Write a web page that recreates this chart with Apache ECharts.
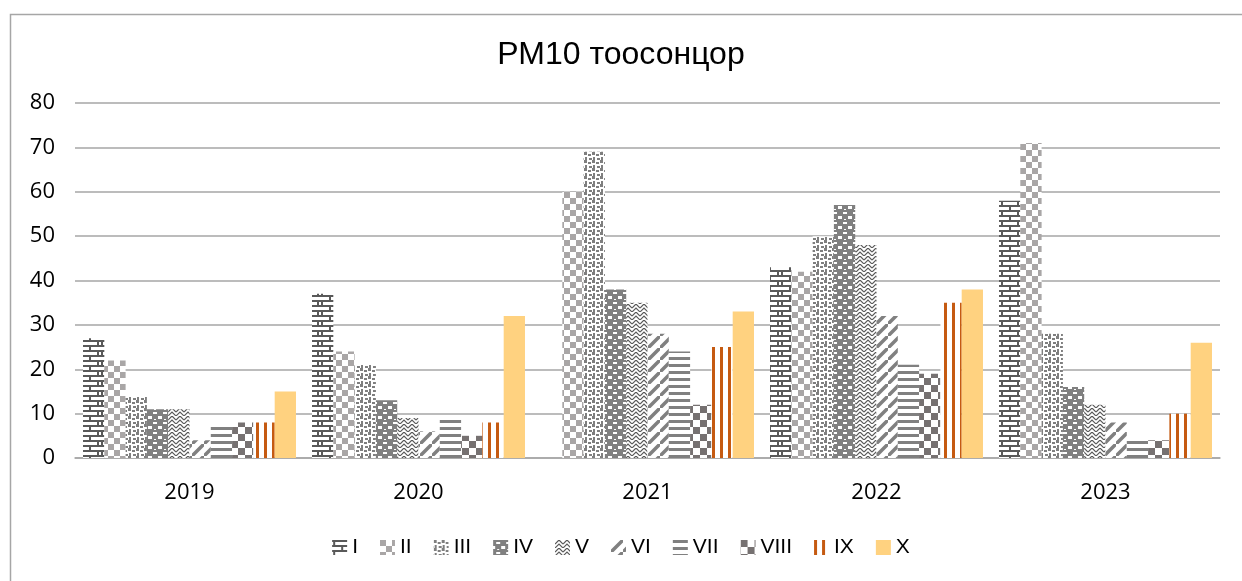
<!doctype html>
<html>
<head>
    <meta charset="utf-8">
    <title>PM10</title>
    <script src="https://cdn.jsdelivr.net/npm/echarts@6/dist/echarts.min.js"></script>
</head>
<body style="margin:0;background:#fff">
    <div id="main" style="width:1242px;height:581px;"></div>
</body>
<script type="text/javascript">
    // categories and series values
    var years = ['2019', '2020', '2021', '2022', '2023'];
    var names = ['I', 'II', 'III', 'IV', 'V', 'VI', 'VII', 'VIII', 'IX', 'X'];
    var sI    = [27, 37, 0, 43, 58];
    var sII   = [22, 24, 60, 42, 71];
    var sIII  = [14, 21, 69, 50, 28];
    var sIV   = [11, 13, 38, 57, 16];
    var sV    = [11, 9, 35, 48, 12];
    var sVI   = [4, 6, 28, 32, 8];
    var sVII  = [7, 9, 24, 21, 4];
    var sVIII = [8, 5, 12, 19, 4];
    var sIX   = [8, 8, 25, 35, 10];
    var sX    = [15, 32, 33, 38, 26];
    var yTicks = [0, 80, 10];

    // small canvas tiles used as fill patterns
    function tile(w, h, draw) {
        var c = document.createElement('canvas');
        c.width = w; c.height = h;
        var ctx = c.getContext('2d');
        ctx.fillStyle = '#fff';
        ctx.fillRect(0, 0, w, h);
        draw(ctx);
        return { image: c, repeat: 'repeat' };
    }
    var pat = [
        tile(20, 10, function (g) { // brick
            g.fillStyle = '#595959';
            g.fillRect(0, 0, 20, 2);
            g.fillRect(0, 5, 20, 2);
            g.fillRect(1, 0, 2, 7);
            g.fillRect(17, 0, 2, 7);
            g.fillRect(9, 7, 2, 3);
        }),
        tile(12, 12, function (g) { // large checker
            g.fillStyle = '#a9a6a6';
            g.fillRect(0, 0, 6, 6);
            g.fillRect(6, 6, 6, 6);
        }),
        tile(8, 8, function (g) { // confetti
            g.fillStyle = '#7f7f7f';
            g.fillRect(0, 0, 3, 3);
            g.fillRect(4, 2, 3, 2);
            g.fillRect(1, 5, 2, 3);
            g.fillRect(5, 6, 3, 2);
        }),
        tile(10, 10, function (g) { // shingle
            g.fillStyle = '#808080';
            g.fillRect(0, 0, 10, 10);
            g.fillStyle = '#fff';
            g.fillRect(3, 2, 4, 2);
            g.fillRect(0, 6, 2, 3);
            g.fillRect(8, 6, 2, 3);
            g.fillRect(4, 9, 2, 1);
        }),
        tile(8, 8, function (g) { // zigzag weave
            g.strokeStyle = '#595959';
            g.lineWidth = 1.2;
            g.beginPath();
            g.moveTo(0, 4); g.lineTo(4, 0); g.lineTo(8, 4);
            g.moveTo(0, 8); g.lineTo(4, 4); g.lineTo(8, 8);
            g.stroke();
        }),
        tile(12, 12, function (g) { // wide upward diagonal
            g.strokeStyle = '#808080';
            g.lineWidth = 3.5;
            g.beginPath();
            g.moveTo(-2, 14); g.lineTo(14, -2);
            g.stroke();
        }),
        tile(4, 7, function (g) { // horizontal lines
            g.fillStyle = '#808080';
            g.fillRect(0, 0, 4, 3);
        }),
        tile(14, 14, function (g) { // dark checker
            g.fillStyle = '#767171';
            g.fillRect(0, 0, 7, 7);
            g.fillRect(7, 7, 7, 7);
        }),
        tile(8, 2, function (g) { // vertical stripes
            g.fillStyle = '#c55a11';
            g.fillRect(0, 0, 3, 2);
        }),
        '#ffd280'
    ];

    var data = [sI, sII, sIII, sIV, sV, sVI, sVII, sVIII, sIX, sX];
    var series = [];
    for (var i = 0; i < names.length; i++) {
        series.push({
            name: names[i],
            type: 'bar',
            barGap: '0%',
            barCategoryGap: '7%',
            itemStyle: { color: pat[i] },
            data: data[i]
        });
    }

    var myChart = echarts.init(document.getElementById('main'));
    var option = {
        animation: false,
        backgroundColor: '#fff',
        graphic: [{
            type: 'rect',
            left: 8, top: 12,
            shape: { width: 1300, height: 700 },
            style: { fill: 'none', stroke: '#a6a6a6', lineWidth: 1.5 },
            silent: true
        }],
        title: {
            text: 'РМ10 тоосонцор',
            left: 'center',
            top: 34,
            textStyle: { fontFamily: 'Liberation Sans', fontSize: 32, fontWeight: 'normal', color: '#000' }
        },
        legend: {
            data: names,
            bottom: 18,
            left: 'center',
            icon: 'rect',
            itemWidth: 15,
            itemHeight: 15,
            itemGap: 22,
            textStyle: { fontFamily: 'Liberation Sans', fontSize: 21, color: '#000' }
        },
        grid: { left: 75, right: 22, top: 103, bottom: 123 },
        xAxis: {
            type: 'category',
            data: years,
            axisTick: { show: false },
            axisLine: { lineStyle: { color: '#a6a6a6', width: 1.5 } },
            axisLabel: { fontFamily: 'Open Sans', fontSize: 22, color: '#000', margin: 24 }
        },
        yAxis: {
            type: 'value',
            min: yTicks[0],
            max: yTicks[1],
            interval: yTicks[2],
            axisLabel: { fontFamily: 'Open Sans', fontSize: 22, color: '#000', margin: 20 },
            splitLine: { lineStyle: { color: '#a6a6a6', width: 1.5 } }
        },
        series: series
    };
    myChart.setOption(option);
</script>
</html>
